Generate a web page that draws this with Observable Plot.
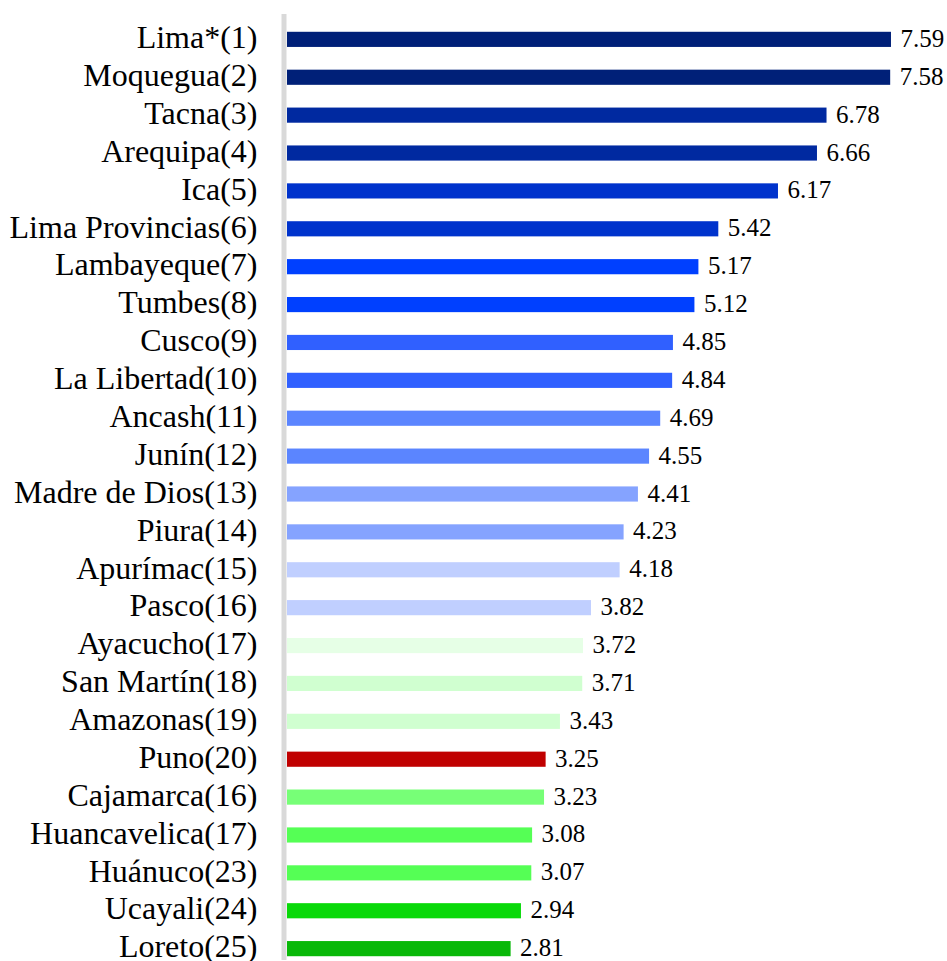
<!DOCTYPE html>
<html>
<head>
<meta charset="utf-8">
<script src="https://cdn.jsdelivr.net/npm/d3@7"></script>
<script src="https://cdn.jsdelivr.net/npm/@observablehq/plot@0.6"></script>
<style>
  html, body { margin: 0; padding: 0; background: #fff; }
  #chart svg { display: block; font-family: "Liberation Serif", "Times New Roman", serif; }
  #chart svg text { font-family: "Liberation Serif", "Times New Roman", serif; }
</style>
</head>
<body>
<div id="chart"></div>
<script>
const regions = [
  "Lima*(1)", "Moquegua(2)", "Tacna(3)", "Arequipa(4)", "Ica(5)",
  "Lima Provincias(6)", "Lambayeque(7)", "Tumbes(8)", "Cusco(9)", "La Libertad(10)",
  "Ancash(11)", "Junín(12)", "Madre de Dios(13)", "Piura(14)", "Apurímac(15)",
  "Pasco(16)", "Ayacucho(17)", "San Martín(18)", "Amazonas(19)", "Puno(20)",
  "Cajamarca(16)", "Huancavelica(17)", "Huánuco(23)", "Ucayali(24)", "Loreto(25)"
];
const values = [
  7.59, 7.58, 6.78, 6.66, 6.17,
  5.42, 5.17, 5.12, 4.85, 4.84,
  4.69, 4.55, 4.41, 4.23, 4.18,
  3.82, 3.72, 3.71, 3.43, 3.25,
  3.23, 3.08, 3.07, 2.94, 2.81
];
const valueLabels = values.map(v => v.toFixed(2));
const barColors = [
  "#002078", "#002078", "#0029A0", "#0029A0", "#0033CC",
  "#0033CC", "#0040FF", "#0040FF", "#3060FF", "#3060FF",
  "#5B85FF", "#5B85FF", "#85A3FF", "#85A3FF", "#C0CFFF",
  "#C0CFFF", "#E6FFE6", "#D0FFD0", "#D0FFD0", "#C00000",
  "#77FF77", "#55FF55", "#55FF55", "#09D909", "#08B808"
];

const data = regions.map((r, i) => ({region: r, value: values[i], label: valueLabels[i]}));
const serif = "Liberation Serif, Times New Roman, serif";

const chart = Plot.plot({
  width: 947,
  height: 961,
  marginLeft: 287,
  marginRight: 0,
  marginTop: 28,
  marginBottom: 1,
  style: {background: "#fff"},
  x: {domain: [0, 8.294], axis: null},
  y: {domain: regions, axis: null, paddingInner: 0.6, paddingOuter: 0.1, round: false},
  color: {domain: regions, range: barColors},
  marks: [
    Plot.barX(data, {x: "value", y: "region", fill: "region"}),
    Plot.ruleX([0], {stroke: "#D9D9D9", strokeWidth: 5, dx: -3.5, insetTop: -14}),
    Plot.text(data, {
      y: "region", text: "region", frameAnchor: "left", textAnchor: "end",
      dx: -30, dy: -2, fontSize: 32, fontFamily: serif, fill: "#000"
    }),
    Plot.text(data, {
      x: "value", y: "region", text: "label", textAnchor: "start",
      dx: 9, dy: -1, fontSize: 25, fontFamily: serif, fill: "#000"
    })
  ]
});
document.getElementById("chart").appendChild(chart);
</script>
</body>
</html>
